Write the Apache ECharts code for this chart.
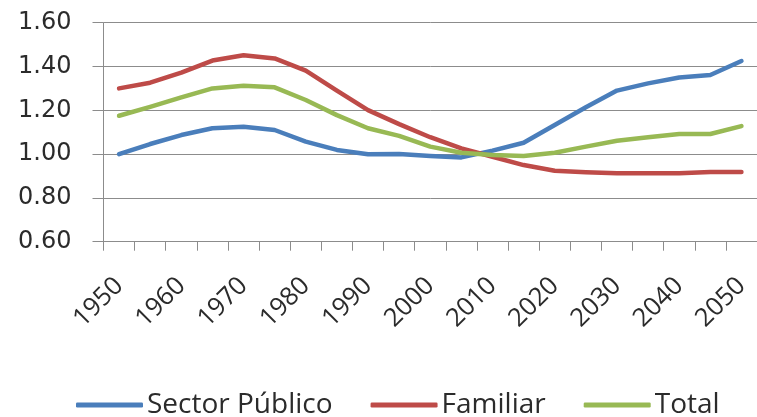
<!DOCTYPE html>
<html>
<head>
<meta charset="utf-8">
<script src="https://cdn.jsdelivr.net/npm/echarts@6/dist/echarts.min.js"></script>
<style>
  html, body { margin: 0; padding: 0; background: #ffffff; }
  #chart { width: 757px; height: 417px; }
</style>
</head>
<body>
<div id="chart"></div>
<script>
// Five-year steps from 1950 to 2050
const years = ['1950','1955','1960','1965','1970','1975','1980','1985','1990','1995','2000',
               '2005','2010','2015','2020','2025','2030','2035','2040','2045','2050'];

const sectorPublico = [1.00, 1.046, 1.087, 1.118, 1.125, 1.110, 1.057, 1.019, 0.999, 1.000, 0.991,
                       0.985, 1.016, 1.052, 1.133, 1.214, 1.290, 1.323, 1.350, 1.361, 1.425];
const familiar = [1.300, 1.326, 1.372, 1.427, 1.451, 1.437, 1.381, 1.290, 1.201, 1.137, 1.077,
                  1.026, 0.988, 0.950, 0.924, 0.917, 0.912, 0.912, 0.912, 0.918, 0.918];
const total = [1.175, 1.216, 1.259, 1.300, 1.312, 1.305, 1.247, 1.178, 1.118, 1.083, 1.034,
               1.006, 0.996, 0.991, 1.006, 1.034, 1.061, 1.077, 1.092, 1.092, 1.128];

const seriesNames = ['Sector Público', 'Familiar', 'Total'];
const seriesColors = ['#4a7ebb', '#be4b48', '#98b954'];
const seriesData = [sectorPublico, familiar, total];

const gridColor = '#8c8c8c';
const textColor = '#2b2b2b';
const chart = echarts.init(document.getElementById('chart'), null, { renderer: 'canvas' });

chart.setOption({
  animation: false,
  backgroundColor: '#ffffff',
  grid: { left: 103.5, top: 22.7, right: -14.8, bottom: 175.3, containLabel: false },
  legend: {
    left: 71,
    top: 385,
    itemWidth: 67,
    itemHeight: 5,
    itemGap: 38,
    icon: 'roundRect',
    textStyle: { fontFamily: 'Open Sans', fontSize: 28, color: textColor, lineHeight: 30, padding: [0, 0, 0, -1] },
    data: seriesNames
  },
  xAxis: {
    type: 'category',
    data: years,
    boundaryGap: true,
    axisLine: { lineStyle: { color: gridColor, width: 1 } },
    axisTick: { show: true, length: 9, interval: 0, lineStyle: { color: gridColor } },
    axisLabel: {
      interval: 1,
      rotate: 45,
      margin: 40,
      fontFamily: 'Open Sans',
      fontSize: 25.5,
      color: textColor
    },
    splitLine: { show: false }
  },
  yAxis: {
    type: 'value',
    min: 0.6,
    max: 1.6,
    interval: 0.2,
    axisLine: { show: true, lineStyle: { color: gridColor, width: 1 } },
    axisTick: { show: true, length: 11, lineStyle: { color: gridColor } },
    axisLabel: {
      margin: 32,
      fontFamily: 'DejaVu Sans',
      fontSize: 24,
      color: textColor,
      formatter: v => v.toFixed(2)
    },
    splitLine: { show: true, lineStyle: { color: gridColor, width: 1 } }
  },
  series: seriesNames.map((name, i) => ({
    name: name,
    type: 'line',
    data: seriesData[i],
    smooth: false,
    showSymbol: false,
    symbol: 'none',
    color: seriesColors[i],
    lineStyle: { width: 4.5, color: seriesColors[i], cap: 'round', join: 'round' },
    itemStyle: { color: seriesColors[i] }
  }))
});
</script>
</body>
</html>
